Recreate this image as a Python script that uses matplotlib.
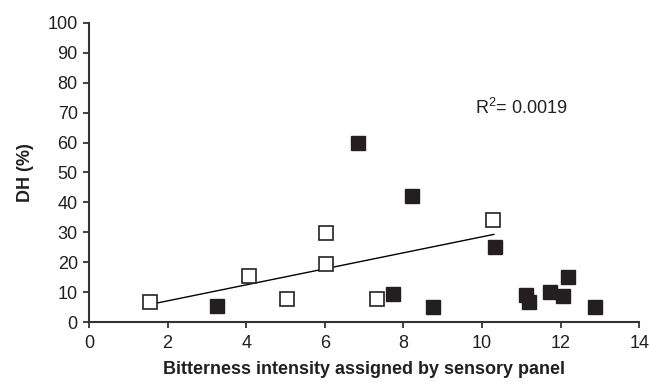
import numpy as np
import matplotlib.pyplot as plt

plt.rcParams['font.family'] = ['Liberation Sans', 'DejaVu Sans']
plt.rcParams['mathtext.fontset'] = 'custom'
plt.rcParams['mathtext.rm'] = 'Liberation Sans'

# open squares
open_x = [1.55, 4.07, 5.03, 6.02, 6.02, 7.32, 10.29]
open_y = [6.7, 15.3, 7.7, 29.8, 19.3, 7.7, 34.0]

# filled squares
filled_x = [3.27, 6.85, 8.23, 7.73, 8.76, 10.32, 11.12, 11.19, 11.73, 12.06, 12.18, 12.88]
filled_y = [5.3, 59.7, 42.0, 9.3, 5.1, 25.1, 9.2, 6.8, 9.9, 8.8, 15.1, 5.1]

# trend line ends
trend_x = [1.6, 10.3]
trend_y = [6.0, 29.3]

x_ticks = [0, 2, 4, 6, 8, 10, 12, 14]
y_ticks = [0, 10, 20, 30, 40, 50, 60, 70, 80, 90, 100]

fig = plt.figure(figsize=(6.49, 3.82), dpi=100)
ax = fig.add_axes([0.137, 0.157, 0.848, 0.783])

ax.plot(trend_x, trend_y, color='black', linewidth=1.0, zorder=2)
ax.plot(open_x, open_y, linestyle='none', marker='s', markersize=10,
        markerfacecolor='white', markeredgecolor='#222222', markeredgewidth=1.2, zorder=3)
ax.plot(filled_x, filled_y, linestyle='none', marker='s', markersize=10,
        markerfacecolor='#231f20', markeredgecolor='#231f20', markeredgewidth=1.0, zorder=3)

ax.text(9.82, 71.7, r'R$^\mathrm{2}$= 0.0019', fontsize=13, va='center', ha='left', color='#231f20')

ax.set_xlim(0, 14)
ax.set_ylim(0, 100)
ax.set_xticks(x_ticks)
ax.set_yticks(y_ticks)

for side in ['top', 'right']:
    ax.spines[side].set_visible(False)
for side in ['left', 'bottom']:
    ax.spines[side].set_color('#333333')
    ax.spines[side].set_linewidth(1.5)

ax.tick_params(axis='both', direction='out', length=4.5, width=1.3, color='#333333',
               labelsize=13, labelcolor='#231f20')
ax.tick_params(axis='x', pad=5)

ax.set_xlabel('Bitterness intensity assigned by sensory panel', fontsize=13,
              fontweight='bold', labelpad=6, color='#231f20')
ax.set_ylabel('DH (%)', fontsize=13, fontweight='bold', labelpad=10, color='#231f20')

fig.savefig('out.png', dpi=100)
